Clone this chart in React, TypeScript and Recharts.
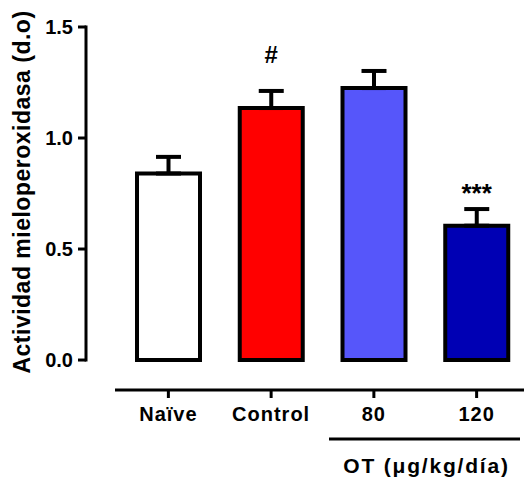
import { BarChart, Bar, XAxis, YAxis, ErrorBar, Cell, ReferenceDot, Label } from 'recharts';

const groups = ['Naïve', 'Control', '80', '120'];
const means = [0.84, 1.135, 1.225, 0.605];
const sems = [0.075, 0.077, 0.077, 0.075];
const barColors = ['#FFFFFF', '#FF0000', '#5656FA', '#0000B4'];
const sigMarks = ['', '#', '', '***'];
const yTicks = [0, 0.5, 1, 1.5];

// one-sided (upper) SEM, like the Prism original
const data = groups.map((group, i) => ({ group, mean: means[i], err: [0, sems[i]] }));

const FONT = '"Liberation Sans", Arial, Helvetica, sans-serif';

function YTitle() {
  return (
    <text
      x={29.5}
      y={192}
      transform="rotate(-90, 29.5, 192)"
      textAnchor="middle"
      fontSize={23}
      fontWeight={700}
      letterSpacing={0.5}
      fill="#000"
    >
      Actividad mieloperoxidasa (d.o)
    </text>
  );
}

function DoseBracket() {
  return (
    <g>
      <line x1={329} y1={439} x2={520} y2={439} stroke="#000" strokeWidth={3} />
      <text x={426.5} y={473} textAnchor="middle" fontSize={21} fontWeight={700} letterSpacing={1.8} fill="#000">
        OT (μg/kg/día)
      </text>
    </g>
  );
}

export default function App() {
  return (
    <div style={{ position: 'absolute', left: 0, top: 0, fontFamily: FONT }}>
      <BarChart width={524} height={481} data={data} margin={{ top: 27, right: -4, bottom: 0, left: 0 }}>
        <XAxis
          dataKey="group"
          height={91}
          interval={0}
          padding={{ left: 31, right: 0 }}
          axisLine={{ stroke: '#000', strokeWidth: 3, strokeDasharray: '0 29 1000' }}
          tickLine={{ stroke: '#000', strokeWidth: 3 }}
          tickSize={8}
          tickMargin={9}
          tick={{ fill: '#000', fontSize: 20, fontWeight: 700, letterSpacing: 1 }}
        >
          <Label content={DoseBracket} />
        </XAxis>
        <YAxis
          width={86}
          type="number"
          domain={[-0.135, 1.5]}
          ticks={yTicks}
          tickFormatter={(v: number) => v.toFixed(1)}
          axisLine={{ stroke: '#000', strokeWidth: 3, strokeDasharray: '333 1000', strokeLinecap: 'square' }}
          tickLine={{ stroke: '#000', strokeWidth: 3 }}
          tickSize={8}
          tickMargin={5}
          tick={{ fill: '#000', fontSize: 20, fontWeight: 700 }}
        >
          <Label content={YTitle} />
        </YAxis>
        <Bar dataKey="mean" barSize={63} stroke="#000" strokeWidth={4} isAnimationActive={false}>
          {groups.map((g, i) => (
            <Cell key={g} fill={barColors[i]} />
          ))}
          <ErrorBar dataKey="err" width={12.5} strokeWidth={4} stroke="#000" isAnimationActive={false} />
        </Bar>
        {groups.map((g, i) =>
          sigMarks[i] ? (
            <ReferenceDot
              key={g}
              x={g}
              y={means[i] + sems[i]}
              r={0}
              shape={(p: any) => (
                <text
                  x={p.cx}
                  y={p.cy - (sigMarks[i] === '#' ? 28 : 7)}
                  textAnchor="middle"
                  fontSize={sigMarks[i] === '#' ? 24 : 26}
                  fontWeight={700}
                  fill="#000"
                >
                  {sigMarks[i]}
                </text>
              )}
            />
          ) : null
        )}
      </BarChart>
    </div>
  );
}
